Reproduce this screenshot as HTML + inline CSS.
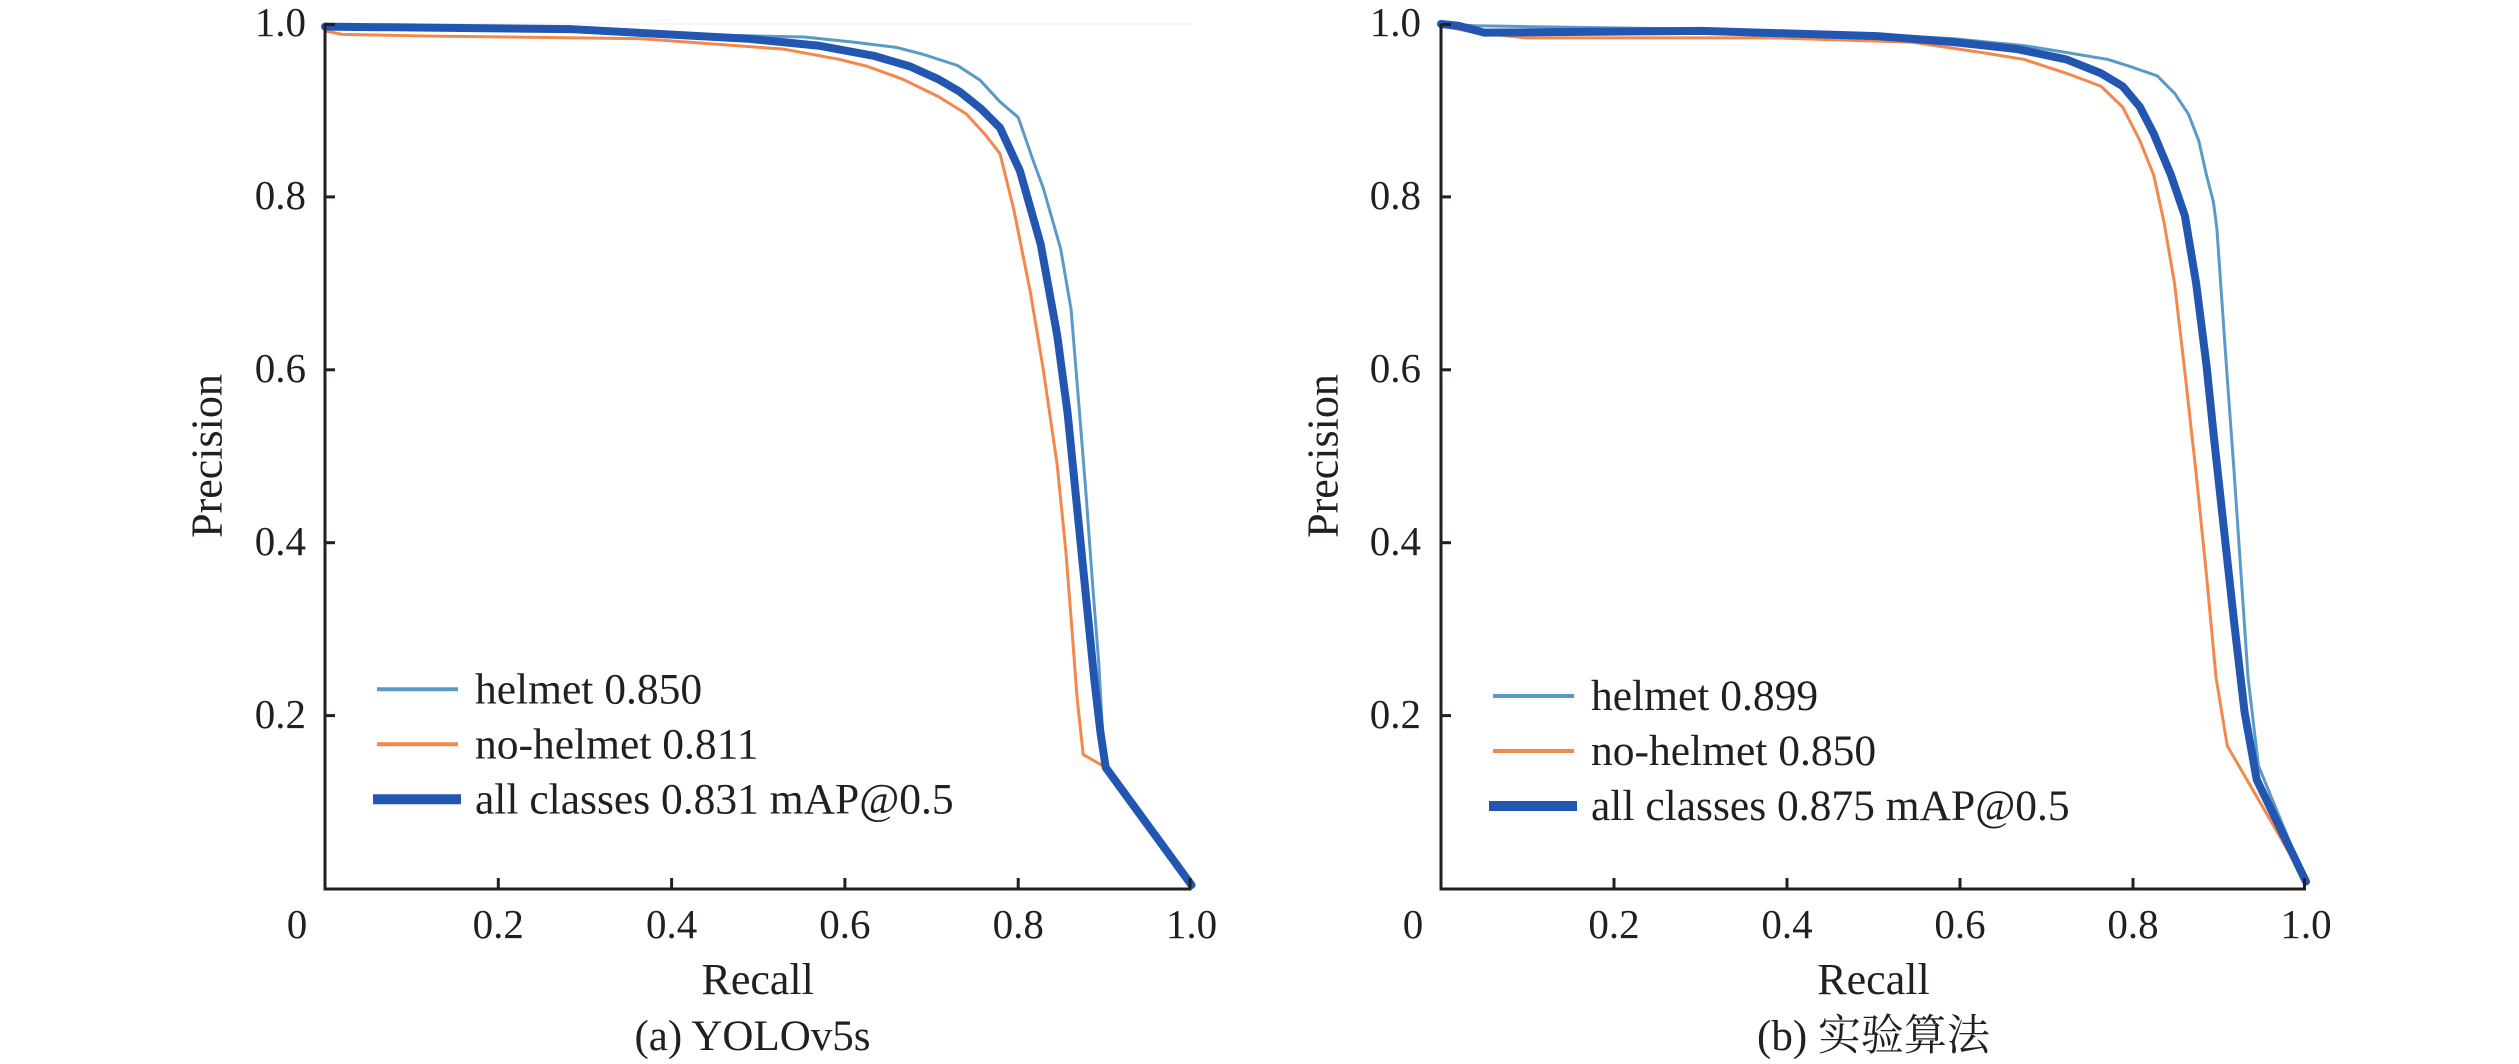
<!DOCTYPE html>
<html>
<head>
<meta charset="utf-8">
<style>
  html, body { margin: 0; padding: 0; background: #ffffff; }
  body { width: 2519px; height: 1064px; overflow: hidden; }
  svg { display: block; }
  text { font-family: "Liberation Serif", "Noto Serif CJK SC", serif; fill: #231f20; }
  .tick { font-size: 41px; }
  .lab { font-size: 44px; }
  .leg { font-size: 43.5px; }
  .cap { font-size: 43px; }
  .ax { stroke: #231f20; stroke-width: 3; fill: none; }
  .c { fill: none; stroke-linejoin: round; stroke-linecap: round; vector-effect: non-scaling-stroke; }
  .h { stroke: #5a9ac6; stroke-width: 3; }
  .o { stroke: #f4874b; stroke-width: 3; }
  .a { stroke: #2356b0; stroke-width: 8; }
</style>
</head>
<body>
<svg width="2519" height="1064" viewBox="0 0 2519 1064" xmlns="http://www.w3.org/2000/svg">
  <rect x="0" y="0" width="2519" height="1064" fill="#ffffff"/>

  <!-- ================= Panel (a) ================= -->
  <line x1="325" y1="24" x2="1191.5" y2="24" stroke="#ececec" stroke-width="1"/>
  <g transform="translate(325,888.5) scale(866.5,-864.5)">
    <polyline class="c h" points="0,1.0 0.02,0.998 0.2,0.997 0.366,0.989 0.553,0.985 0.61,0.979 0.659,0.973 0.69,0.965 0.73,0.952 0.756,0.935 0.779,0.91 0.8,0.892 0.818,0.84 0.829,0.81 0.849,0.74 0.861,0.67 0.87,0.56 0.878,0.46 0.886,0.35 0.893,0.26 0.898,0.17 0.901,0.14 1.0,0.004"/>
    <polyline class="c o" points="0,0.992 0.02,0.988 0.123,0.986 0.366,0.983 0.529,0.971 0.594,0.959 0.626,0.951 0.667,0.936 0.708,0.916 0.74,0.896 0.762,0.872 0.779,0.85 0.795,0.785 0.814,0.69 0.829,0.6 0.845,0.49 0.855,0.39 0.862,0.3 0.868,0.22 0.875,0.155 0.901,0.14 1.0,0.004"/>
    <polyline class="c a" points="0,0.997 0.285,0.994 0.488,0.983 0.569,0.975 0.634,0.963 0.675,0.951 0.708,0.936 0.732,0.922 0.757,0.902 0.779,0.88 0.802,0.83 0.826,0.745 0.845,0.64 0.857,0.55 0.868,0.44 0.877,0.35 0.888,0.24 0.895,0.18 0.901,0.14 1.0,0.004"/>
  </g>
  <!-- axes -->
  <polyline class="ax" points="325,24 325,889 1191.5,889"/>
  <g class="ax">
    <line x1="325" y1="24.5" x2="335" y2="24.5"/>
    <line x1="325" y1="196.9" x2="335" y2="196.9"/>
    <line x1="325" y1="369.8" x2="335" y2="369.8"/>
    <line x1="325" y1="542.7" x2="335" y2="542.7"/>
    <line x1="325" y1="715.6" x2="335" y2="715.6"/>
    <line x1="498.3" y1="889" x2="498.3" y2="878"/>
    <line x1="671.6" y1="889" x2="671.6" y2="878"/>
    <line x1="844.9" y1="889" x2="844.9" y2="878"/>
    <line x1="1018.2" y1="889" x2="1018.2" y2="878"/>
    <line x1="1190" y1="889" x2="1190" y2="878"/>
  </g>
  <g class="tick" text-anchor="end">
    <text x="306" y="36">1.0</text>
    <text x="306" y="209">0.8</text>
    <text x="306" y="382">0.6</text>
    <text x="306" y="555">0.4</text>
    <text x="306" y="728">0.2</text>
  </g>
  <g class="tick" text-anchor="middle">
    <text x="297" y="938">0</text>
    <text x="498.3" y="938">0.2</text>
    <text x="671.6" y="938">0.4</text>
    <text x="844.9" y="938">0.6</text>
    <text x="1018.2" y="938">0.8</text>
    <text x="1191.5" y="938">1.0</text>
  </g>
  <text class="lab" x="757.7" y="994" text-anchor="middle">Recall</text>
  <text class="lab" x="221.5" y="456" text-anchor="middle" transform="rotate(-90 221.5 456)">Precision</text>
  <text class="cap" x="752.5" y="1050" text-anchor="middle">(a) YOLOv5s</text>
  <!-- legend -->
  <line x1="377" y1="689.3" x2="458" y2="689.3" stroke="#5a9ac6" stroke-width="4"/>
  <line x1="377" y1="744.3" x2="458" y2="744.3" stroke="#f4874b" stroke-width="4"/>
  <line x1="373" y1="799.3" x2="461" y2="799.3" stroke="#2356b0" stroke-width="10"/>
  <text class="leg" x="475" y="703.3">helmet 0.850</text>
  <text class="leg" x="475" y="758.3">no-helmet 0.811</text>
  <text class="leg" x="475" y="813.3">all classes 0.831 mAP@0.5</text>

  <!-- ================= Panel (b) ================= -->
  <g transform="translate(1441,888.5) scale(865,-864.5)">
    <polyline class="c h" points="0,1.0 0.04,0.998 0.1,0.997 0.301,0.994 0.463,0.99 0.593,0.983 0.674,0.975 0.723,0.967 0.771,0.959 0.796,0.951 0.828,0.94 0.848,0.92 0.864,0.896 0.876,0.865 0.885,0.825 0.893,0.794 0.897,0.763 0.903,0.676 0.909,0.59 0.917,0.48 0.925,0.362 0.933,0.244 0.945,0.142 1.0,0.008"/>
    <polyline class="c o" points="0,0.998 0.04,0.99 0.098,0.984 0.382,0.984 0.544,0.979 0.625,0.967 0.674,0.959 0.723,0.943 0.763,0.928 0.788,0.904 0.808,0.865 0.824,0.825 0.836,0.77 0.848,0.70 0.86,0.597 0.873,0.48 0.885,0.362 0.896,0.244 0.909,0.165 1.0,0.008"/>
    <polyline class="c a" points="0,1.0 0.02,0.998 0.05,0.99 0.301,0.992 0.504,0.986 0.593,0.979 0.666,0.971 0.723,0.959 0.763,0.943 0.788,0.928 0.808,0.904 0.824,0.873 0.844,0.825 0.86,0.778 0.873,0.70 0.885,0.605 0.893,0.527 0.905,0.417 0.917,0.307 0.929,0.204 0.943,0.126 1.0,0.008"/>
  </g>
  <polyline class="ax" points="1441,24 1441,889 2306,889"/>
  <g class="ax">
    <line x1="1441" y1="24.5" x2="1451" y2="24.5"/>
    <line x1="1441" y1="196.9" x2="1451" y2="196.9"/>
    <line x1="1441" y1="369.8" x2="1451" y2="369.8"/>
    <line x1="1441" y1="542.7" x2="1451" y2="542.7"/>
    <line x1="1441" y1="715.6" x2="1451" y2="715.6"/>
    <line x1="1614" y1="889" x2="1614" y2="878"/>
    <line x1="1787" y1="889" x2="1787" y2="878"/>
    <line x1="1960" y1="889" x2="1960" y2="878"/>
    <line x1="2133" y1="889" x2="2133" y2="878"/>
    <line x1="2304.5" y1="889" x2="2304.5" y2="878"/>
  </g>
  <g class="tick" text-anchor="end">
    <text x="1421" y="36">1.0</text>
    <text x="1421" y="209">0.8</text>
    <text x="1421" y="382">0.6</text>
    <text x="1421" y="555">0.4</text>
    <text x="1421" y="728">0.2</text>
  </g>
  <g class="tick" text-anchor="middle">
    <text x="1413" y="938">0</text>
    <text x="1614" y="938">0.2</text>
    <text x="1787" y="938">0.4</text>
    <text x="1960" y="938">0.6</text>
    <text x="2133" y="938">0.8</text>
    <text x="2306" y="938">1.0</text>
  </g>
  <text class="lab" x="1873.5" y="994" text-anchor="middle">Recall</text>
  <text class="lab" x="1337.5" y="456" text-anchor="middle" transform="rotate(-90 1337.5 456)">Precision</text>
  <text class="cap" x="1873.5" y="1050" text-anchor="middle">(b) 实验算法</text>
  <line x1="1493" y1="696" x2="1574" y2="696" stroke="#5a9ac6" stroke-width="4"/>
  <line x1="1493" y1="751" x2="1574" y2="751" stroke="#f4874b" stroke-width="4"/>
  <line x1="1489" y1="806" x2="1577" y2="806" stroke="#2356b0" stroke-width="10"/>
  <text class="leg" x="1591" y="710">helmet 0.899</text>
  <text class="leg" x="1591" y="765">no-helmet 0.850</text>
  <text class="leg" x="1591" y="820">all classes 0.875 mAP@0.5</text>
</svg>
</body>
</html>
